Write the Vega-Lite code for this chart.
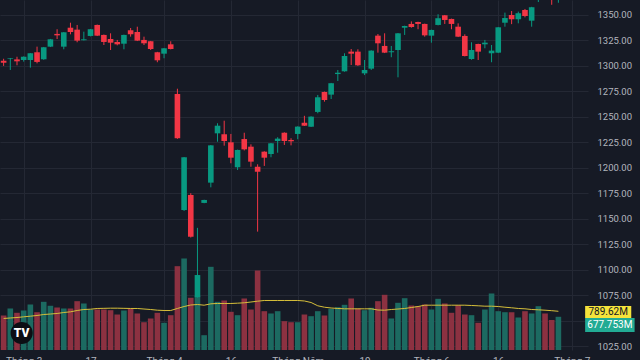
{
  "$schema": "https://vega.github.io/schema/vega-lite/v6.json",
  "width": 588,
  "height": 350,
  "autosize": "none",
  "padding": {"left": 0, "top": 0, "right": 52, "bottom": 10},
  "background": "#161a25",
  "config": {
    "view": {"stroke": null},
    "font": "Roboto",
    "axis": {"labelColor": "#b2b5be", "labelFont": "Roboto", "labelFontSize": 10, "gridColor": "#242834", "gridWidth": 1, "domain": false, "ticks": false, "title": null, "labelOverlap": false}
  },
  "datasets": {
    "bars": [
      {"i": -3, "o": 1305, "h": 1307, "l": 1300, "c": 1303, "v": 704, "ma": 643},
      {"i": -2, "o": 1307, "h": 1307.8, "l": 1296, "c": 1307.6, "v": 847, "ma": 653},
      {"i": -1, "o": 1306.4, "h": 1309, "l": 1300.6, "c": 1304.5, "v": 759, "ma": 663},
      {"i": 0, "o": 1305.8, "h": 1309.3, "l": 1304.2, "c": 1309, "v": 806, "ma": 677},
      {"i": 1, "o": 1305.8, "h": 1312.6, "l": 1298.3, "c": 1312.4, "v": 928, "ma": 690},
      {"i": 2, "o": 1313.4, "h": 1318.9, "l": 1302.5, "c": 1303.9, "v": 771, "ma": 704},
      {"i": 3, "o": 1306.5, "h": 1318.6, "l": 1306, "c": 1318.3, "v": 983, "ma": 724},
      {"i": 4, "o": 1318.9, "h": 1326.5, "l": 1318.5, "c": 1326.1, "v": 902, "ma": 734},
      {"i": 5, "o": 1331.4, "h": 1336, "l": 1326.4, "c": 1330, "v": 867, "ma": 745},
      {"i": 6, "o": 1318.9, "h": 1333.3, "l": 1316.3, "c": 1333, "v": 847, "ma": 765},
      {"i": 7, "o": 1337.5, "h": 1342.4, "l": 1331, "c": 1333.3, "v": 847, "ma": 779},
      {"i": 8, "o": 1335.6, "h": 1340.2, "l": 1323.2, "c": 1324.8, "v": 996, "ma": 806},
      {"i": 9, "o": 1325.2, "h": 1333.6, "l": 1325, "c": 1326.1, "v": 949, "ma": 826},
      {"i": 10, "o": 1329.4, "h": 1336.3, "l": 1329, "c": 1336, "v": 826, "ma": 832},
      {"i": 11, "o": 1340.2, "h": 1340.6, "l": 1329.3, "c": 1329.7, "v": 826, "ma": 847},
      {"i": 12, "o": 1330.4, "h": 1330.8, "l": 1320.5, "c": 1323.5, "v": 826, "ma": 850},
      {"i": 13, "o": 1326.4, "h": 1332, "l": 1315.6, "c": 1322.8, "v": 812, "ma": 853},
      {"i": 14, "o": 1323.5, "h": 1325.5, "l": 1320.2, "c": 1321.2, "v": 724, "ma": 853},
      {"i": 15, "o": 1321.8, "h": 1330.7, "l": 1316.3, "c": 1330.4, "v": 806, "ma": 850},
      {"i": 16, "o": 1335, "h": 1337.2, "l": 1328.7, "c": 1331, "v": 840, "ma": 847},
      {"i": 17, "o": 1333.3, "h": 1338.5, "l": 1324.4, "c": 1324.8, "v": 745, "ma": 847},
      {"i": 18, "o": 1325.5, "h": 1328.7, "l": 1320.5, "c": 1322.2, "v": 567, "ma": 836},
      {"i": 19, "o": 1324.2, "h": 1324.5, "l": 1315.6, "c": 1316.6, "v": 643, "ma": 826},
      {"i": 20, "o": 1313.4, "h": 1313.8, "l": 1303.6, "c": 1305.5, "v": 759, "ma": 812},
      {"i": 21, "o": 1312, "h": 1317.6, "l": 1307.5, "c": 1317.3, "v": 555, "ma": 806},
      {"i": 22, "o": 1321.2, "h": 1324.2, "l": 1316.2, "c": 1316.6, "v": 710, "ma": 806},
      {"i": 23, "o": 1272.4, "h": 1277.6, "l": 1228.4, "c": 1229, "v": 1710, "ma": 847},
      {"i": 24, "o": 1158.5, "h": 1210.6, "l": 1157.6, "c": 1210.3, "v": 1867, "ma": 887},
      {"i": 25, "o": 1173.3, "h": 1175, "l": 1131.5, "c": 1132.3, "v": 1065, "ma": 918},
      {"i": 26, "o": 1073, "h": 1141, "l": 1072.5, "c": 1094.7, "v": 1098, "ma": 928},
      {"i": 27, "o": 1165.5, "h": 1168.6, "l": 1165.2, "c": 1168.4, "v": 302, "ma": 914},
      {"i": 28, "o": 1185.4, "h": 1222.3, "l": 1180.8, "c": 1222, "v": 1697, "ma": 942},
      {"i": 29, "o": 1233.8, "h": 1243.7, "l": 1225.6, "c": 1241.3, "v": 983, "ma": 949},
      {"i": 30, "o": 1232.9, "h": 1246.2, "l": 1221.7, "c": 1226.3, "v": 1010, "ma": 949},
      {"i": 31, "o": 1225, "h": 1233.2, "l": 1204.4, "c": 1209.9, "v": 779, "ma": 949},
      {"i": 32, "o": 1200.5, "h": 1217.8, "l": 1197.8, "c": 1217.5, "v": 710, "ma": 955},
      {"i": 33, "o": 1228.2, "h": 1234.4, "l": 1217, "c": 1218.1, "v": 1051, "ma": 963},
      {"i": 34, "o": 1220.7, "h": 1223, "l": 1201, "c": 1206, "v": 826, "ma": 979},
      {"i": 35, "o": 1201.1, "h": 1203.4, "l": 1137.3, "c": 1196.2, "v": 1622, "ma": 996},
      {"i": 36, "o": 1215.8, "h": 1216.2, "l": 1201.8, "c": 1209.9, "v": 792, "ma": 1010},
      {"i": 37, "o": 1213.5, "h": 1224.3, "l": 1210.3, "c": 1224, "v": 745, "ma": 1010},
      {"i": 38, "o": 1226.3, "h": 1230, "l": 1214.8, "c": 1228.6, "v": 792, "ma": 1010},
      {"i": 39, "o": 1234.4, "h": 1234.8, "l": 1222.4, "c": 1226.3, "v": 588, "ma": 1010},
      {"i": 40, "o": 1227.3, "h": 1229, "l": 1222, "c": 1226, "v": 567, "ma": 1010},
      {"i": 41, "o": 1233.2, "h": 1240.7, "l": 1228, "c": 1240.4, "v": 567, "ma": 1010},
      {"i": 42, "o": 1244.2, "h": 1251, "l": 1241, "c": 1241.3, "v": 724, "ma": 1000},
      {"i": 43, "o": 1240.3, "h": 1250.5, "l": 1240, "c": 1250.2, "v": 690, "ma": 969},
      {"i": 44, "o": 1254.8, "h": 1271.5, "l": 1253.5, "c": 1269.2, "v": 792, "ma": 902},
      {"i": 45, "o": 1274.4, "h": 1274.8, "l": 1264.9, "c": 1266.5, "v": 704, "ma": 873},
      {"i": 46, "o": 1271.8, "h": 1283.3, "l": 1267.5, "c": 1283, "v": 840, "ma": 857},
      {"i": 47, "o": 1292, "h": 1296, "l": 1285.2, "c": 1293.3, "v": 873, "ma": 847},
      {"i": 48, "o": 1294.7, "h": 1312.4, "l": 1294.3, "c": 1309.7, "v": 922, "ma": 840},
      {"i": 49, "o": 1314, "h": 1316.6, "l": 1300.9, "c": 1312, "v": 1051, "ma": 840},
      {"i": 50, "o": 1314, "h": 1316.3, "l": 1300, "c": 1300.6, "v": 847, "ma": 840},
      {"i": 51, "o": 1292.7, "h": 1305.8, "l": 1291, "c": 1296, "v": 812, "ma": 840},
      {"i": 52, "o": 1297.3, "h": 1315.3, "l": 1296, "c": 1315, "v": 861, "ma": 840},
      {"i": 53, "o": 1329.7, "h": 1331.3, "l": 1313, "c": 1322.2, "v": 996, "ma": 816},
      {"i": 54, "o": 1319.6, "h": 1332, "l": 1312.6, "c": 1313, "v": 1126, "ma": 812},
      {"i": 55, "o": 1313.4, "h": 1319.6, "l": 1308.5, "c": 1314.4, "v": 643, "ma": 826},
      {"i": 56, "o": 1315.6, "h": 1332.3, "l": 1288.8, "c": 1332, "v": 963, "ma": 836},
      {"i": 57, "o": 1337.5, "h": 1339.5, "l": 1330.4, "c": 1339.2, "v": 1057, "ma": 847},
      {"i": 58, "o": 1341.2, "h": 1343.7, "l": 1337.5, "c": 1338.2, "v": 908, "ma": 867},
      {"i": 59, "o": 1343.1, "h": 1343.4, "l": 1336, "c": 1341.2, "v": 894, "ma": 887},
      {"i": 60, "o": 1341.2, "h": 1341.5, "l": 1328.7, "c": 1330, "v": 928, "ma": 914},
      {"i": 61, "o": 1329.7, "h": 1335.6, "l": 1322.8, "c": 1335.3, "v": 826, "ma": 914},
      {"i": 62, "o": 1340.2, "h": 1350.7, "l": 1339.8, "c": 1346.8, "v": 1044, "ma": 914},
      {"i": 63, "o": 1349.7, "h": 1350, "l": 1341.2, "c": 1345.1, "v": 949, "ma": 914},
      {"i": 64, "o": 1346.1, "h": 1346.4, "l": 1336, "c": 1341.2, "v": 759, "ma": 914},
      {"i": 65, "o": 1338.5, "h": 1341.8, "l": 1328.3, "c": 1328.7, "v": 914, "ma": 914},
      {"i": 66, "o": 1329.4, "h": 1331, "l": 1309.3, "c": 1309.7, "v": 724, "ma": 914},
      {"i": 67, "o": 1306.8, "h": 1323.2, "l": 1306, "c": 1315.6, "v": 710, "ma": 908},
      {"i": 68, "o": 1321.5, "h": 1321.8, "l": 1305.8, "c": 1314, "v": 555, "ma": 902},
      {"i": 69, "o": 1321.2, "h": 1325.5, "l": 1317.3, "c": 1322.8, "v": 826, "ma": 894},
      {"i": 70, "o": 1312.4, "h": 1320.5, "l": 1303.6, "c": 1315, "v": 1153, "ma": 894},
      {"i": 71, "o": 1313, "h": 1338.2, "l": 1312.6, "c": 1337.9, "v": 792, "ma": 887},
      {"i": 72, "o": 1342.4, "h": 1352.3, "l": 1338.5, "c": 1347, "v": 771, "ma": 873},
      {"i": 73, "o": 1350, "h": 1353.9, "l": 1341, "c": 1345.8, "v": 771, "ma": 861},
      {"i": 74, "o": 1345.8, "h": 1353.3, "l": 1341.8, "c": 1351.7, "v": 663, "ma": 847},
      {"i": 75, "o": 1354.9, "h": 1355.9, "l": 1347.7, "c": 1349, "v": 792, "ma": 840},
      {"i": 76, "o": 1344.4, "h": 1358, "l": 1338.5, "c": 1357.6, "v": 745, "ma": 826},
      {"i": 77, "o": 1365.5, "h": 1373, "l": 1362.7, "c": 1371, "v": 894, "ma": 820},
      {"i": 78, "o": 1372, "h": 1377, "l": 1366, "c": 1369, "v": 745, "ma": 812},
      {"i": 79, "o": 1374, "h": 1378, "l": 1360, "c": 1367, "v": 612, "ma": 802},
      {"i": 80, "o": 1366, "h": 1376, "l": 1362, "c": 1373, "v": 677.753, "ma": 789.62}
    ]
  },
  "layer": [
    {
      "data": {"name": "bars"},
      "layer": [
        {
          "mark": {"type": "bar", "size": 5.6},
          "encoding": {
            "x": {"field": "i", "type": "quantitative", "scale": {"domain": [-2.794, 83.68], "nice": false, "zero": false},
              "axis": {"values": [0, 10, 21, 31, 41, 51, 61, 71, 82], "grid": true, "labelPadding": 6, "labelBaseline": "top", "labelOverlap": false, "labelFlush": false, "labelBound": false,
                "labelExpr": "datum.value == 0 ? 'Tháng 3' : datum.value == 10 ? '17' : datum.value == 21 ? 'Tháng 4' : datum.value == 31 ? '16' : datum.value == 41 ? 'Tháng Năm' : datum.value == 51 ? '19' : datum.value == 61 ? 'Tháng 6' : datum.value == 71 ? '16' : 'Tháng 7'"}},
            "y": {"field": "v", "type": "quantitative", "scale": {"domain": [0, 7140], "nice": false, "zero": true}, "axis": null},
            "color": {"condition": {"test": "datum.c >= datum.o", "value": "#1c6a61"}, "value": "#8c3141"}
          }
        },
        {
          "mark": {"type": "line", "color": "#d6bf3a", "strokeWidth": 1},
          "encoding": {
            "x": {"field": "i", "type": "quantitative", "scale": {"domain": [-2.794, 83.68], "nice": false, "zero": false},
              "axis": {"values": [0, 10, 21, 31, 41, 51, 61, 71, 82], "grid": true, "labelPadding": 6, "labelBaseline": "top", "labelOverlap": false, "labelFlush": false, "labelBound": false,
                "labelExpr": "datum.value == 0 ? 'Tháng 3' : datum.value == 10 ? '17' : datum.value == 21 ? 'Tháng 4' : datum.value == 31 ? '16' : datum.value == 41 ? 'Tháng Năm' : datum.value == 51 ? '19' : datum.value == 61 ? 'Tháng 6' : datum.value == 71 ? '16' : 'Tháng 7'"}},
            "y": {"field": "ma", "type": "quantitative", "scale": {"domain": [0, 7140], "nice": false, "zero": true}, "axis": null}
          }
        }
      ]
    },
    {
      "encoding": {
        "x": {"field": "i", "type": "quantitative", "scale": {"domain": [-2.794, 83.68], "nice": false, "zero": false},
          "axis": {"values": [0, 10, 21, 31, 41, 51, 61, 71, 82], "grid": true, "labelPadding": 6, "labelBaseline": "top", "labelOverlap": false, "labelFlush": false, "labelBound": false,
            "labelExpr": "datum.value == 0 ? 'Tháng 3' : datum.value == 10 ? '17' : datum.value == 21 ? 'Tháng 4' : datum.value == 31 ? '16' : datum.value == 41 ? 'Tháng Năm' : datum.value == 51 ? '19' : datum.value == 61 ? 'Tháng 6' : datum.value == 71 ? '16' : 'Tháng 7'"}},
        "y": {"field": "o", "type": "quantitative", "scale": {"domain": [1021.1, 1364.7], "nice": false, "zero": false},
          "axis": {"orient": "right", "values": [1025, 1050, 1075, 1100, 1125, 1150, 1175, 1200, 1225, 1250, 1275, 1300, 1325, 1350], "labelExpr": "datum.value == 1050 ? '' : format(datum.value, '.2f')", "grid": true, "labelPadding": 9, "labelAlign": "left", "labelOverlap": false, "labelFontSize": 9.5, "labelBound": false, "labelFlush": false}}
      },
      "layer": [
        {
          "data": {"name": "bars"},
          "mark": {"type": "rule", "strokeWidth": 1},
          "encoding": {
            "y": {"field": "l", "type": "quantitative", "scale": {"domain": [1021.1, 1364.7], "nice": false, "zero": false},
              "axis": {"orient": "right", "values": [1025, 1050, 1075, 1100, 1125, 1150, 1175, 1200, 1225, 1250, 1275, 1300, 1325, 1350], "labelExpr": "datum.value == 1050 ? '' : format(datum.value, '.2f')", "grid": true, "labelPadding": 9, "labelAlign": "left", "labelOverlap": false, "labelFontSize": 9.5, "labelBound": false, "labelFlush": false}},
            "y2": {"field": "h"},
            "color": {"condition": {"test": "datum.c >= datum.o", "value": "#089981"}, "value": "#f23645"}
          }
        },
        {
          "data": {"name": "bars"},
          "mark": {"type": "bar", "size": 5.6},
          "encoding": {
            "y2": {"field": "c"},
            "color": {"condition": {"test": "datum.c >= datum.o", "value": "#089981"}, "value": "#f23645"}
          }
        },
        {
          "data": {"values": [{"i": -0.3, "o": 1037.8}]},
          "mark": {"type": "point", "shape": "circle", "filled": true, "size": 490, "color": "#0c0e14", "opacity": 1}
        },
        {
          "data": {"values": [{"i": -0.3, "o": 1037.8, "t": "TV"}]},
          "mark": {"type": "text", "color": "#ffffff", "fontSize": 12, "fontWeight": 900, "font": "Roboto", "align": "center", "baseline": "middle"},
          "encoding": {"text": {"field": "t"}}
        },
        {
          "data": {"values": [{"i": 84, "i2": 90.9, "o": 1064.3, "o2": 1052.5}]},
          "mark": {"type": "rect", "color": "#f5e33b"},
          "encoding": {"x2": {"field": "i2"}, "y2": {"field": "o2"}}
        },
        {
          "data": {"values": [{"i": 84, "i2": 91.4, "o": 1052.5, "o2": 1038.8}]},
          "mark": {"type": "rect", "color": "#22ab94"},
          "encoding": {"x2": {"field": "i2"}, "y2": {"field": "o2"}}
        },
        {
          "data": {"values": [{"i": 87.45, "o": 1058.4, "t": "789.62M"}]},
          "mark": {"type": "text", "color": "#131722", "fontSize": 10, "font": "Roboto", "align": "center", "baseline": "middle"},
          "encoding": {"text": {"field": "t"}}
        },
        {
          "data": {"values": [{"i": 87.7, "o": 1045.6, "t": "677.753M"}]},
          "mark": {"type": "text", "color": "#ffffff", "fontSize": 10, "font": "Roboto", "align": "center", "baseline": "middle"},
          "encoding": {"text": {"field": "t"}}
        }
      ]
    }
  ],
  "resolve": {"scale": {"y": "independent"}}
}
